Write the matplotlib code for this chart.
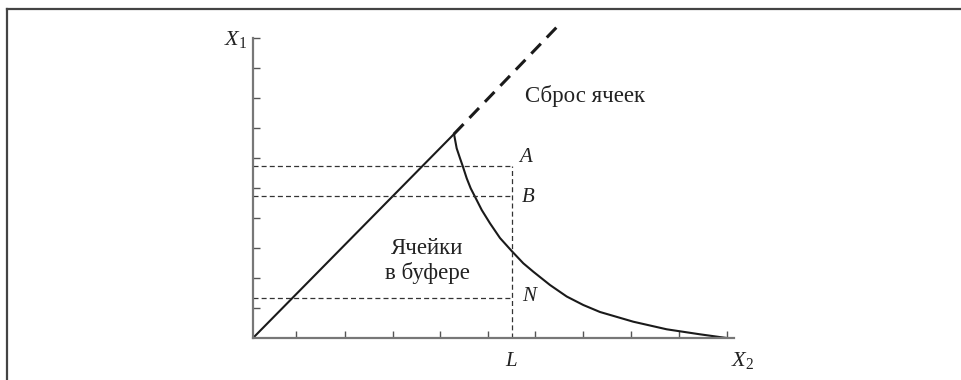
import numpy as np
import matplotlib
matplotlib.use('Agg')
import matplotlib.pyplot as plt
from matplotlib.lines import Line2D

plt.rcParams['font.family'] = ['Liberation Serif', 'DejaVu Serif']
plt.rcParams['mathtext.fontset'] = 'custom'
plt.rcParams['mathtext.rm'] = 'Liberation Serif'
plt.rcParams['mathtext.it'] = 'Liberation Serif:italic'

# данные (1 деление по X2 и по X1 = 1)
peak = (4.205, 6.80)          # точка перелома прямой
dash_end = (6.42, 10.47)      # конец пунктирного продолжения
curve_x = [4.205, 4.261, 4.331, 4.387, 4.471, 4.554, 4.644, 4.785, 4.958, 5.167, 5.412,
           5.655, 5.864, 6.213, 6.563, 6.910, 7.259, 7.956, 8.655, 9.351, 9.910]
curve_y = [6.800, 6.323, 5.990, 5.733, 5.323, 4.990, 4.710, 4.267, 3.823, 3.333, 2.900,
           2.490, 2.210, 1.767, 1.383, 1.100, 0.867, 0.543, 0.290, 0.123, 0.000]
level_L = 5.41
levels = {'A': 5.74, 'B': 4.73, 'N': 1.34}
x_ticks = [0.91, 1.92, 2.92, 3.91, 4.91, 5.90, 6.90, 7.91, 8.92, 9.92]
y_ticks = [1, 2, 3, 4, 5, 6, 7, 8, 9, 10]

fig = plt.figure(figsize=(9.62, 3.8), dpi=100)
fig.patch.set_facecolor('white')
ax = fig.add_axes([253 / 962, 1 - 338 / 380, (962 - 253) / 962, (338 - 10) / 380])
ax.set_xlim(0, (962 - 253) / 47.8)
ax.set_ylim(0, (338 - 10) / 30)

for s in ['top', 'right']:
    ax.spines[s].set_visible(False)
axis_col = '#777777'
ax.spines['left'].set_bounds(0, 10)
ax.spines['bottom'].set_bounds(0, 10.06)
for s in ['left', 'bottom']:
    ax.spines[s].set_color(axis_col)
    ax.spines[s].set_linewidth(1.6)

ax.set_xticks(x_ticks)
ax.set_yticks(y_ticks)
ax.tick_params(direction='in', length=5, width=1, color='#555555',
               labelbottom=False, labelleft=False)

# прямая и пунктирное продолжение
ax.plot([0, peak[0]], [0, peak[1]], color='#1a1a1a', lw=1.5, solid_capstyle='butt')
ax.plot([peak[0], dash_end[0]], [peak[1], dash_end[1]], color='#1a1a1a', lw=2.2,
        dashes=(4.5, 2.8), clip_on=False)
# убывающая кривая
ax.plot(curve_x, curve_y, color='#1a1a1a', lw=1.5, solid_joinstyle='round')

# пунктирные уровни
dcol = '#333333'
for name, yv in levels.items():
    ax.plot([0, level_L], [yv, yv], color=dcol, lw=0.9, dashes=(4, 2.5))
ax.plot([level_L, level_L], [0, levels['A']], color=dcol, lw=0.9, dashes=(4, 2.5))

fs = 15
tcol = '#222222'
ax.text(5.55, 6.0, '$A$', fontsize=fs, color=tcol, ha='left', va='center')
ax.text(5.6, 4.67, '$B$', fontsize=fs, color=tcol, ha='left', va='center')
ax.text(5.63, 1.37, '$N$', fontsize=fs, color=tcol, ha='left', va='center')
ax.text(level_L, -0.77, '$L$', fontsize=fs, color=tcol, ha='center', va='center', clip_on=False)
ax.text(10.0, -0.75, '$X_2$', fontsize=16, color=tcol, ha='left', va='center', clip_on=False)
ax.text(-0.12, 9.95, '$X_1$', fontsize=16, color=tcol, ha='right', va='center', clip_on=False)

rs = 16.5
ax.text(6.95, 7.87, 'Сброс ячеек', fontsize=rs, color=tcol, ha='center', va='baseline')
ax.text(3.64, 2.8, 'Ячейки', fontsize=rs, color=tcol, ha='center', va='baseline')
ax.text(3.64, 1.97, 'в буфере', fontsize=rs, color=tcol, ha='center', va='baseline')

# рамка: верхняя и левая линии
fig.add_artist(Line2D([7 / 962, 1], [1 - 9 / 380, 1 - 9 / 380], color='#444444', lw=1.6,
                      transform=fig.transFigure))
fig.add_artist(Line2D([7 / 962, 7 / 962], [0, 1 - 9 / 380], color='#444444', lw=1.6,
                      transform=fig.transFigure))

fig.savefig('out.png', dpi=100, facecolor='white')
